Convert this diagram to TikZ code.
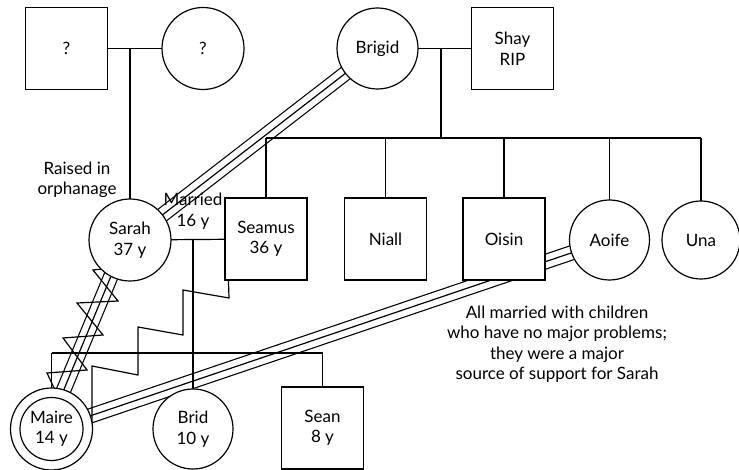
\documentclass[tikz,border=0pt]{standalone}
\usepackage{fontspec}
\setmainfont{Lato}
\usetikzlibrary{backgrounds,calc}
\newcommand\pfont{\fontsize{17}{20.5}\selectfont}
\begin{document}
\begin{tikzpicture}[x=1pt,y=-1pt,line width=1.2pt,
  person/.style={draw,fill=white,align=center,inner sep=0pt,font=\pfont},
  male/.style={person,rectangle,minimum width=82pt,minimum height=82pt},
  female/.style={person,circle,minimum size=82pt},
  note/.style={align=center,font=\pfont,inner sep=0pt},
  rel/.style={line width=1.2pt},
  triple/.style={rel,preaction={draw,line width=1.2pt,double=white,double distance=13pt}}]
\useasboundingbox (0,0) rectangle (739,470);
% people
\node[male] (u1) at (66.5,48.5) {?};
\node[female] (u2) at (203,48.5) {?};
\node[female,minimum size=81pt] (brigid) at (377.5,48.5) {Brigid};
\node[male] (shay) at (512.5,48.5) {Shay\\RIP};
\node[female] (sarah) at (130,240) {Sarah\\37 y};
\node[male] (seamus) at (266,239) {Seamus\\36 y};
\node[male] (niall) at (385.5,239) {Niall};
\node[male] (oisin) at (504,239) {Oisin};
\node[female,minimum size=80pt] (aoife) at (609.5,240) {Aoife};
\node[female,minimum size=78pt] (una) at (701,240) {Una};
\node[female] (maire) at (51.5,429) {Maire\\14 y};
\draw (maire.center) circle (31.5);
\node[female,minimum size=80pt] (brid) at (193,429) {Brid\\10 y};
\node[male] (sean) at (322.5,428) {Sean\\8 y};
% texts
\node[note] (raised) at (77,180) {Raised in\\orphanage};
\node[note] (married) at (193,211) {Married\\16 y};
\node[note] (allm) at (557,344) {All married with children\\who have no major problems;\\they were a major\\source of support for Sarah};
% helper coordinates
\coordinate (m1) at (130,48.5);
\coordinate (m2) at (441,48.5);
\coordinate (sib) at (441,138);
\coordinate (m3) at (193,240);
\coordinate (csib) at (193,353);
\begin{pgfonlayer}{background}
\begin{scope}[line width=1.2pt]
  % emotional relationship lines
  \draw[triple] (brigid.center) -- (sarah.center);
  \draw[triple] ($(sarah.center)+(-4,0)$) -- ($(maire.center)+(-4,0)$);
  \draw[triple] (aoife.center) -- (maire.center);
  % hostile zigzag over the fused Sarah--Maire lines
  \draw[rel] (102,269) -- (93,270) -- (118,301) -- (77,303) -- (103,335)
        -- (63,338) -- (87,370) -- (47,373) -- (55,390);
  % Seamus -- Maire conflict
  \draw[rel] ($(seamus.south west)+(4,-2)$) -- (229,298) -- (183,290) -- (183,335)
        -- (138,327) -- (138,375) -- (92,366) -- (92,424);
  % family structure
  \draw[rel] (u1.center) -- (u2.center);
  \draw[rel] (m1) -- (sarah.center);
  \draw[rel] (brigid.center) -- (shay.center);
  \draw[rel] (m2) -- (sib);
  \draw[rel] (seamus.center |- sib) -- (una.center |- sib);
  \foreach \c in {seamus,niall,oisin,aoife,una}
    \draw[rel] (\c.center) -- (\c.center |- sib);
  \draw[rel] (sarah.center) -- (seamus.center);
  \draw[rel] (m3) -- (brid.center);
  \draw[rel] (maire.center |- csib) -- (sean.center |- csib);
  \draw[rel] (maire.center) -- (maire.center |- csib);
  \draw[rel] (sean.center) -- (sean.center |- csib);
\end{scope}
\end{pgfonlayer}
\end{tikzpicture}
\end{document}
